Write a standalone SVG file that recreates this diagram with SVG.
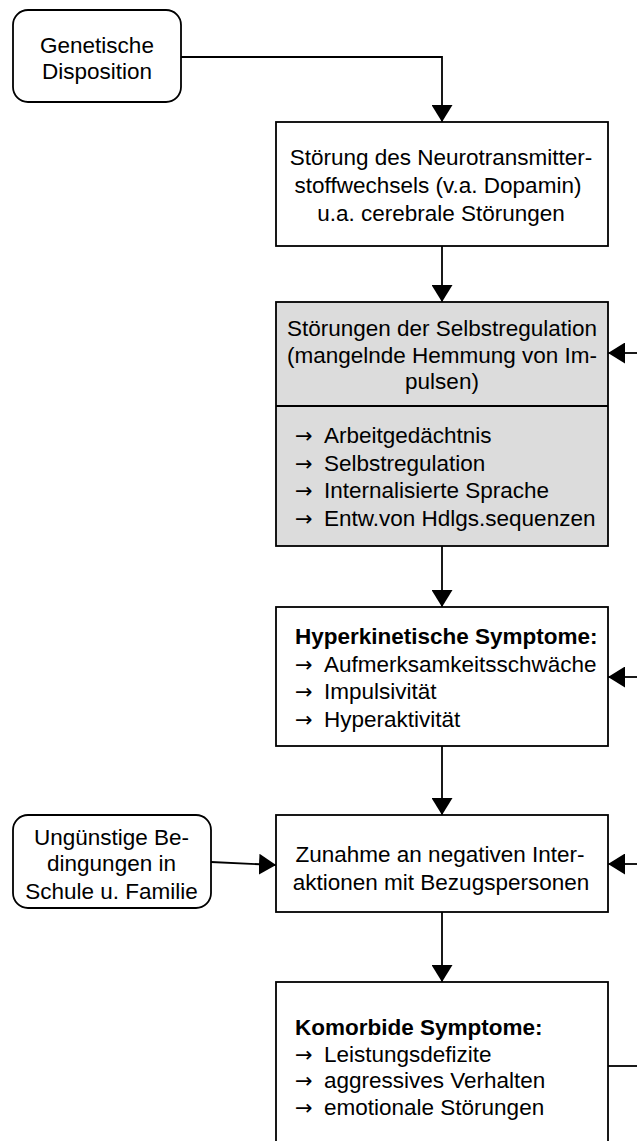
<svg xmlns="http://www.w3.org/2000/svg" width="637" height="1141" viewBox="0 0 637 1141">
<style>
.box{fill:#fff;stroke:#000;stroke-width:1.8}
.grey{fill:#dcdcdc;stroke:#000;stroke-width:1.8}
.t{font-family:"Liberation Sans",Arial,sans-serif;font-size:22.5px;fill:#000}
.a{font-family:"DejaVu Sans",sans-serif;font-size:21px;fill:#000}
.c{text-anchor:middle}
.b{font-weight:bold}
.conn path{fill:none;stroke:#000;stroke-width:1.8}
</style>
<defs>
<marker id="ah" markerUnits="userSpaceOnUse" viewBox="0 0 17 21" markerWidth="17" markerHeight="21" refX="17" refY="10.5" orient="auto">
<path d="M0,0 L17,10.5 L0,21 z" fill="#000"/>
</marker>
</defs>
<g class="conn">
<path d="M181,57 H442 V122" marker-end="url(#ah)"/>
<path d="M442,246 V302" marker-end="url(#ah)"/>
<path d="M442,546 V607" marker-end="url(#ah)"/>
<path d="M442,746 V815" marker-end="url(#ah)"/>
<path d="M442,912 V982" marker-end="url(#ah)"/>
<path d="M211,862 L276,865" marker-end="url(#ah)"/>
<path d="M637,353 H608" marker-end="url(#ah)"/>
<path d="M637,677 H608" marker-end="url(#ah)"/>
<path d="M637,864 H608" marker-end="url(#ah)"/>
<path d="M608,1066 H637"/>
</g>
<g id="genetische">
<rect class="box" x="13" y="10" width="168" height="92" rx="15"/>
<text class="t c" x="97" y="53">Genetische</text>
<text class="t c" x="97" y="79">Disposition</text>
</g>
<g id="neuro">
<rect class="box" x="276" y="122" width="332" height="124"/>
<text class="t c" x="441" y="165">Störung des Neurotransmitter-</text>
<text class="t c" x="438" y="193">stoffwechsels (v.a. Dopamin)</text>
<text class="t c" x="441" y="221">u.a. cerebrale Störungen</text>
</g>
<g id="selbstregulation">
<rect class="grey" x="276" y="302" width="332" height="244"/>
<line x1="276" y1="406" x2="608" y2="406" stroke="#000" stroke-width="1.8"/>
<text class="t c" x="442" y="336">Störungen der Selbstregulation</text>
<text class="t c" x="442" y="363">(mangelnde Hemmung von Im-</text>
<text class="t c" x="442" y="389">pulsen)</text>
<text class="a" x="295" y="443">→</text><text class="t" x="324" y="443">Arbeitgedächtnis</text>
<text class="a" x="295" y="471">→</text><text class="t" x="324" y="471">Selbstregulation</text>
<text class="a" x="295" y="498">→</text><text class="t" x="324" y="498">Internalisierte Sprache</text>
<text class="a" x="295" y="526">→</text><text class="t" x="324" y="526">Entw.von Hdlgs.sequenzen</text>
</g>
<g id="hyperkinetisch">
<rect class="box" x="276" y="607" width="332" height="139"/>
<text class="t b" x="295" y="644">Hyperkinetische Symptome:</text>
<text class="a" x="295" y="672">→</text><text class="t" x="324" y="672">Aufmerksamkeitsschwäche</text>
<text class="a" x="295" y="699">→</text><text class="t" x="324" y="699">Impulsivität</text>
<text class="a" x="295" y="727">→</text><text class="t" x="324" y="727">Hyperaktivität</text>
</g>
<g id="bedingungen">
<rect class="box" x="13" y="815" width="198" height="93" rx="15"/>
<text class="t c" x="111.5" y="845">Ungünstige Be-</text>
<text class="t c" x="111.5" y="871">dingungen in</text>
<text class="t c" x="111.5" y="899">Schule u. Familie</text>
</g>
<g id="zunahme">
<rect class="box" x="276" y="815" width="332" height="97"/>
<text class="t c" x="440" y="862">Zunahme an negativen Inter-</text>
<text class="t c" x="441" y="890">aktionen mit Bezugspersonen</text>
</g>
<g id="komorbide">
<rect class="box" x="276" y="982" width="332" height="190"/>
<text class="t b" x="295" y="1035">Komorbide Symptome:</text>
<text class="a" x="295" y="1062">→</text><text class="t" x="324" y="1062">Leistungsdefizite</text>
<text class="a" x="295" y="1088">→</text><text class="t" x="324" y="1088">aggressives Verhalten</text>
<text class="a" x="295" y="1115">→</text><text class="t" x="324" y="1115">emotionale Störungen</text>
</g>
</svg>
